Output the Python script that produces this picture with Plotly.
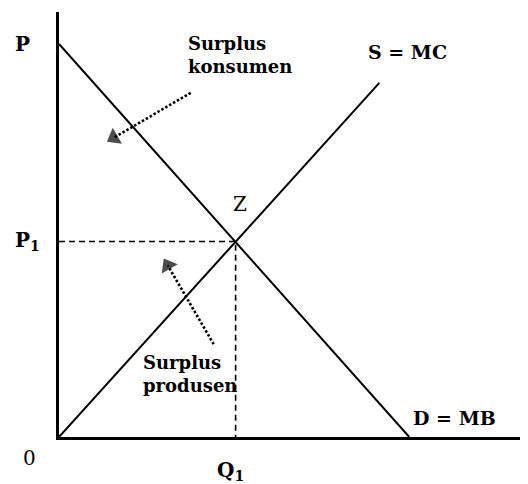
import plotly.graph_objects as go

# Schematic market: demand (D = MB) and supply (S = MC)
demand_q = [0, 35.1]
demand_p = [39.4, 0]
supply_q = [0, 32.1]
supply_p = [0, 35.5]
eq_q = 17.7   # Q1
eq_p = 19.6   # P1

# Dotted pointer arrows (tail -> head)
cons_arrow_q = [13.2, 5.5]
cons_arrow_p = [34.5, 30.0]
prod_arrow_q = [15.5, 10.9]
prod_arrow_p = [9.3, 17.2]

FONT = "DejaVu Serif"

fig = go.Figure()
fig.add_trace(go.Scatter(x=demand_q, y=demand_p, mode="lines",
                         line=dict(color="black", width=2), cliponaxis=False))
fig.add_trace(go.Scatter(x=supply_q, y=supply_p, mode="lines",
                         line=dict(color="black", width=2), cliponaxis=False))
# dashed guides to P1 and Q1
fig.add_trace(go.Scatter(x=[0, eq_q, eq_q], y=[eq_p, eq_p, 0], mode="lines",
                         line=dict(color="black", width=1.6, dash="6px,4px")))
for qs, ps in [(cons_arrow_q, cons_arrow_p), (prod_arrow_q, prod_arrow_p)]:
    fig.add_trace(go.Scatter(
        x=qs, y=ps, mode="lines+markers",
        line=dict(color="black", width=2.6, dash="2.5px,2px"),
        marker=dict(symbol="triangle-up", size=[0, 16], color="black",
                    angleref="previous", line=dict(width=0)),
        cliponaxis=False))

bold = dict(family=FONT, size=18, color="black", weight="bold")
reg = dict(family=FONT, size=20, color="black")
ann = [
    dict(x=0, y=demand_p[0], xshift=-37, text="P", font=dict(bold, size=20)),
    dict(x=0, y=eq_p, xshift=-32, text="P<sub>1</sub>", font=dict(bold, size=20)),
    dict(x=0, y=0, xshift=-30, yshift=-21, text="0", font=reg),
    dict(x=eq_q, y=0, xshift=-5, yshift=-34, text="Q<sub>1</sub>",
         font=dict(bold, size=20)),
    dict(x=18.1, y=23.4, text="Z", font=reg),
    dict(x=34.9, y=38.6, text="S = MC", font=dict(bold, size=19)),
    dict(x=39.6, y=1.9, text="D = MB", font=dict(bold, size=19)),
    dict(x=12.7, y=38.25, text="Surplus<br>konsumen", font=bold,
         xanchor="left", align="left"),
    dict(x=8.2, y=6.3, text="Surplus<br>produsen", font=bold,
         xanchor="left", align="left"),
]
for a in ann:
    a.setdefault("xanchor", "center")
    a.setdefault("yanchor", "middle")
    fig.add_annotation(showarrow=False, xref="x", yref="y", **a)

axis_common = dict(showgrid=False, zeroline=False, showticklabels=False,
                   ticks="", showline=True, linecolor="black", linewidth=2.6)
fig.update_xaxes(range=[0, 47], **axis_common)
fig.update_yaxes(range=[0, 42.6], **axis_common)
fig.update_layout(width=520, height=476, showlegend=False,
                  margin=dict(l=51, r=0, t=4, b=47),
                  plot_bgcolor="white", paper_bgcolor="white")
fig.write_html("out.html")
